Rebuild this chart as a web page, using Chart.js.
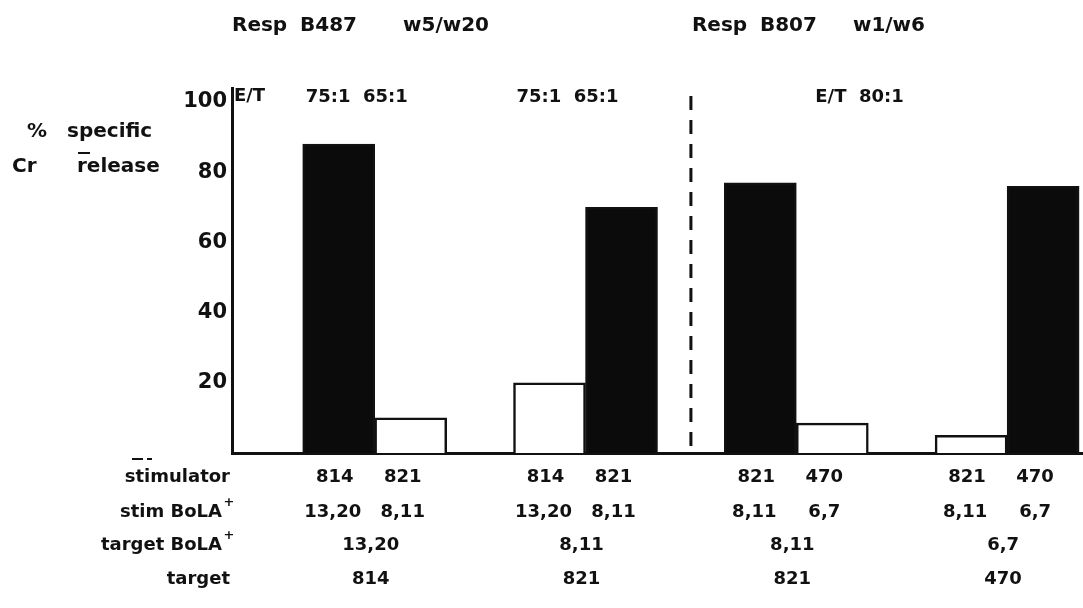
<!DOCTYPE html>
<html>
<head>
<meta charset="utf-8">
<script src="https://cdn.jsdelivr.net/npm/chart.js@4.4.1/dist/chart.umd.min.js"></script>
<style>
  html, body { margin: 0; padding: 0; background: #fff; }
  #wrap { width: 1083px; height: 608px; }
</style>
</head>
<body>
<div id="wrap"><canvas id="chart" width="1083" height="608"></canvas></div>
<script>
// % specific Cr release, one value per bar (first / second bar of each pair)
const firstBarValues = [88, 20, 77, 5];
const secondBarValues = [10, 70, 8.5, 76];
const firstBarColors = ['#0b0b0b', '#ffffff', '#0b0b0b', '#ffffff'];
const secondBarColors = ['#ffffff', '#0b0b0b', '#ffffff', '#0b0b0b'];

// table under the bars
const stimulatorFirst = ['814', '814', '821', '821'];
const stimulatorSecond = ['821', '821', '470', '470'];
const stimBolaFirst = ['13,20', '13,20', '8,11', '8,11'];
const stimBolaSecond = ['8,11', '8,11', '6,7', '6,7'];
const targetBola = ['13,20', '8,11', '8,11', '6,7'];
const targets = ['814', '821', '821', '470'];
const rowLabels = ['stimulator', 'stim BoLA', 'target BoLA', 'target'];

// header texts
const ratioLabels = ['75:1  65:1', '75:1  65:1'];
const responders = ['B487', 'B807'];
const responderTypes = ['w5/w20', 'w1/w6'];
const yTicks = [20, 40, 60, 80, 100];

const ink = '#111';
const FONT = "'DejaVu Sans', 'Liberation Sans', sans-serif";

Chart.defaults.font.family = FONT;
Chart.defaults.font.weight = 'bold';
Chart.defaults.color = ink;

function text(ctx, str, x, y, align, size) {
    ctx.font = `bold ${size}px ${FONT}`;
    ctx.textAlign = align;
    ctx.textBaseline = 'middle';
    ctx.fillText(str, x, y);
}

const annotations = {
    id: 'annotations',
    afterDatasetsDraw(chart) {
        const { ctx, chartArea, scales: { x } } = chart;
        const sepX = x.getPixelForValue(1.5);
        ctx.save();
        ctx.strokeStyle = ink;
        ctx.lineWidth = 3;
        ctx.setLineDash([14, 10]);
        ctx.beginPath();
        ctx.moveTo(sepX, chartArea.top + 8);
        ctx.lineTo(sepX, chartArea.bottom);
        ctx.stroke();
        ctx.restore();
    },
    afterDraw(chart) {
        const { ctx, chartArea, scales: { x } } = chart;
        const first = chart.getDatasetMeta(0).data;
        const second = chart.getDatasetMeta(1).data;
        const left = chartArea.left;
        const sepX = x.getPixelForValue(1.5);

        ctx.save();
        ctx.fillStyle = ink;

        // titles
        text(ctx, 'Resp', left, 26, 'left', 20);
        text(ctx, responders[0], left + 68, 26, 'left', 20);
        text(ctx, responderTypes[0], left + 171, 26, 'left', 20);
        text(ctx, 'Resp', sepX + 1, 26, 'left', 20);
        text(ctx, responders[1], sepX + 69, 26, 'left', 20);
        text(ctx, responderTypes[1], sepX + 162, 26, 'left', 20);

        // E/T ratios
        text(ctx, 'E/T', left + 2, 96, 'left', 18);
        ratioLabels.forEach((lab, i) => {
            text(ctx, lab, x.getPixelForValue(i) - 18, 97, 'center', 18);
        });
        text(ctx, 'E/T  80:1', x.getPixelForValue(2.3), 97, 'center', 18);

        // y axis title
        text(ctx, '%', 27, 132, 'left', 20);
        text(ctx, 'specific', 67, 132, 'left', 20);
        text(ctx, 'Cr', 12, 167, 'left', 20);
        text(ctx, 'release', 77, 167, 'left', 20);
        ctx.fillRect(78, 152, 12, 2);
        ctx.fillRect(132, 458, 11, 2);
        ctx.fillRect(147, 458, 5, 2);

        // table rows
        const rowY = [477, 512, 545, 579];
        const labelRight = left - 2;
        text(ctx, rowLabels[0], labelRight, rowY[0], 'right', 18);
        text(ctx, rowLabels[1], labelRight - 8, rowY[1], 'right', 18);
        text(ctx, '+', labelRight - 1, rowY[1] - 9, 'center', 13);
        text(ctx, rowLabels[2], labelRight - 8, rowY[2], 'right', 18);
        text(ctx, '+', labelRight - 1, rowY[2] - 9, 'center', 13);
        text(ctx, rowLabels[3], labelRight, rowY[3], 'right', 18);

        for (let i = 0; i < first.length; i++) {
            text(ctx, stimulatorFirst[i], first[i].x - 4, rowY[0], 'center', 18);
            text(ctx, stimulatorSecond[i], second[i].x - 8, rowY[0], 'center', 18);
            text(ctx, stimBolaFirst[i], first[i].x - 6, rowY[1], 'center', 18);
            text(ctx, stimBolaSecond[i], second[i].x - 8, rowY[1], 'center', 18);
            const mid = x.getPixelForValue(i);
            text(ctx, targetBola[i], mid - 4, rowY[2], 'center', 18);
            text(ctx, targets[i], mid - 4, rowY[3], 'center', 18);
        }
        ctx.restore();
    }
};

const ctx = document.getElementById('chart').getContext('2d');
new Chart(ctx, {
    type: 'bar',
    data: {
        datasets: [{
            data: firstBarValues.map((v, i) => ({ x: i, y: v })),
            backgroundColor: firstBarColors,
            borderColor: ink,
            borderWidth: 2.5
        }, {
            data: secondBarValues.map((v, i) => ({ x: i, y: v })),
            backgroundColor: secondBarColors,
            borderColor: ink,
            borderWidth: 2.5
        }]
    },
    options: {
        responsive: false,
        devicePixelRatio: 1,
        animation: false,
        barThickness: 72,
        layout: { padding: { top: 88, right: 0, bottom: 0, left: 0 } },
        plugins: {
            legend: { display: false },
            tooltip: { enabled: false }
        },
        scales: {
            x: {
                type: 'linear',
                offset: false,
                min: -0.677,
                max: 3.36,
                grid: { display: false, drawTicks: false, offset: false },
                border: { display: true, color: ink, width: 3 },
                ticks: { display: false },
                afterFit: (scale) => { scale.height = 155; }
            },
            y: {
                min: 0,
                max: 104,
                grid: { display: false, drawTicks: false },
                border: { display: true, color: ink, width: 3 },
                ticks: {
                    padding: 5,
                    color: ink,
                    font: { size: 21, weight: 'bold' }
                },
                afterBuildTicks: (scale) => { scale.ticks = yTicks.map(v => ({ value: v })); },
                afterFit: (scale) => { scale.width = 232; }
            }
        }
    },
    plugins: [annotations]
});
</script>
</body>
</html>
